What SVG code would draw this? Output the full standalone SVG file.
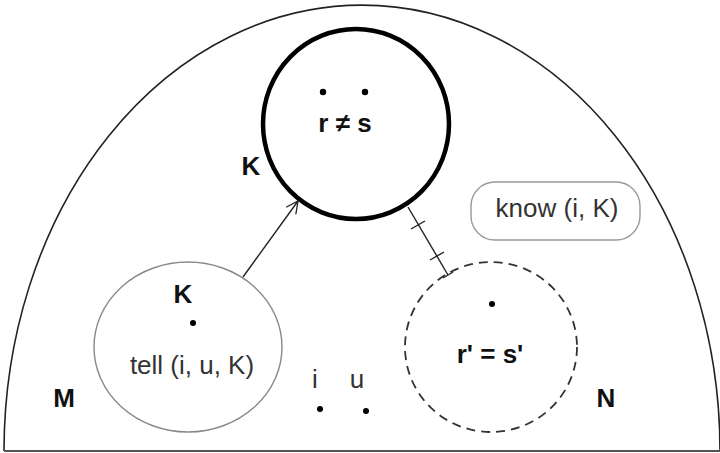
<svg xmlns="http://www.w3.org/2000/svg" width="720" height="453" viewBox="0 0 720 453">
<style>
text{font-family:"Liberation Sans",Arial,sans-serif;font-size:26px;fill:#333;text-anchor:middle}
.b{font-weight:bold;fill:#111}
.dot{fill:#000}
</style>
<defs>
<marker id="open" markerWidth="16" markerHeight="16" refX="13" refY="7" orient="auto" markerUnits="userSpaceOnUse">
<path d="M1,1 L13,7 L1,13" fill="none" stroke="#222" stroke-width="1.3"/>
</marker>
</defs>
<rect width="720" height="453" fill="#fff"/>
<g id="world">
<path d="M4,451 A358,446 0 0 1 720,451" fill="none" stroke="#222" stroke-width="1.6"/>
<line x1="4" y1="451" x2="720" y2="451" stroke="#555" stroke-width="2"/>
<text class="b" x="64" y="407">M</text>
<text class="b" x="606" y="407">N</text>
</g>
<g id="connectors" stroke="#222" fill="none">
<line x1="243" y1="277" x2="298" y2="201" stroke-width="1.4" marker-end="url(#open)"/>
<line x1="408" y1="207" x2="448" y2="275" stroke-width="1.4"/>
<line x1="411" y1="229" x2="425" y2="221" stroke-width="1.4"/>
<line x1="430" y1="260" x2="444" y2="252" stroke-width="1.4"/>
<line x1="443" y1="278" x2="453" y2="272" stroke-width="1.4"/>
</g>
<g id="K">
<ellipse cx="356" cy="124" rx="93" ry="95" fill="none" stroke="#000" stroke-width="4.5"/>
<circle class="dot" cx="323" cy="92" r="3.2"/>
<circle class="dot" cx="365" cy="92" r="3.2"/>
<text class="b" x="345" y="132">r ≠  s</text>
<text class="b" x="251" y="175">K</text>
</g>
<g id="tell">
<ellipse cx="188" cy="347" rx="94" ry="85" fill="none" stroke="#888" stroke-width="1.4"/>
<text class="b" x="183" y="303">K</text>
<circle class="dot" cx="193" cy="323" r="3"/>
<text x="192" y="374">tell (i, u, K)</text>
</g>
<g id="dashed">
<ellipse cx="491" cy="347" rx="86" ry="85" fill="none" stroke="#333" stroke-width="1.8" stroke-dasharray="9,6"/>
<circle class="dot" cx="492" cy="304" r="3"/>
<text class="b" x="490" y="363">r' = s'</text>
</g>
<g id="know">
<rect x="471" y="182" width="169" height="58" rx="24" fill="none" stroke="#999" stroke-width="1.4"/>
<text x="557" y="217">know (i, K)</text>
</g>
<g id="agents">
<text x="315" y="388">i</text>
<text x="357" y="388">u</text>
<circle class="dot" cx="320" cy="409" r="3"/>
<circle class="dot" cx="366" cy="411" r="3"/>
</g>
</svg>
